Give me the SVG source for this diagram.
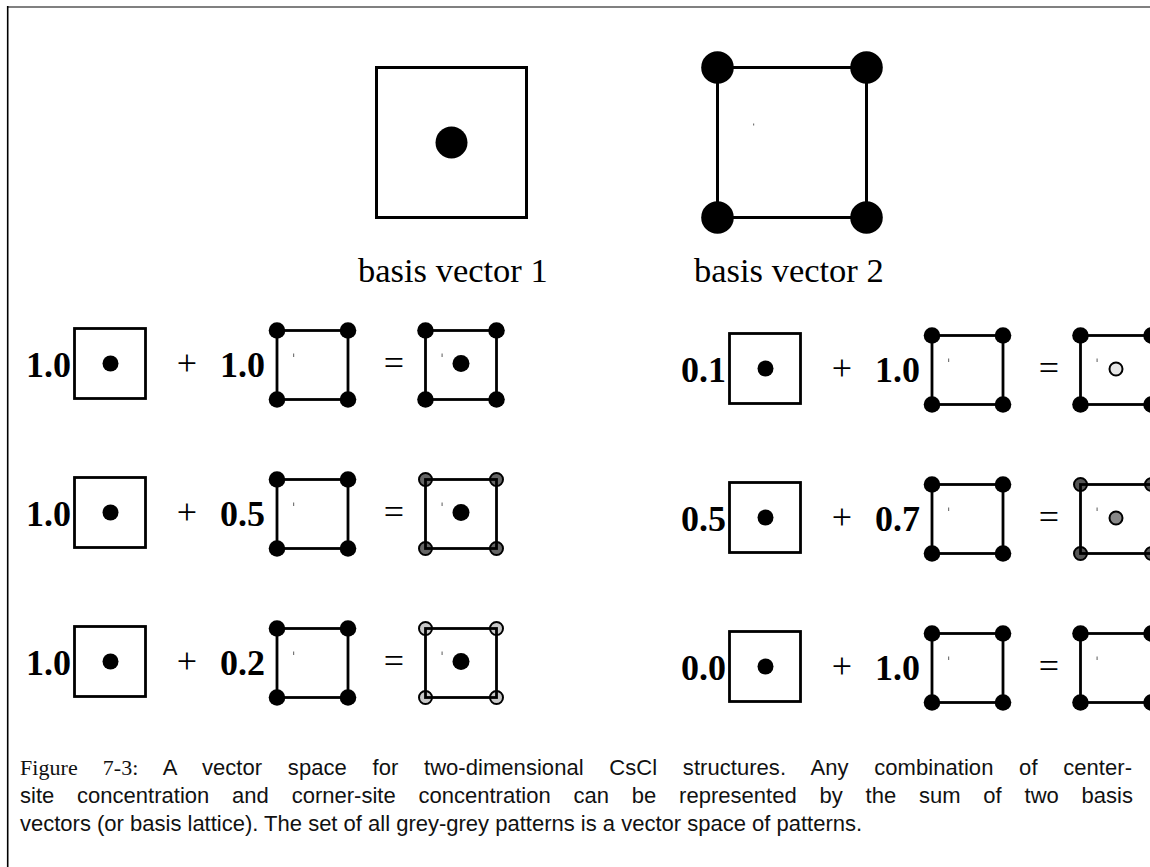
<svg xmlns="http://www.w3.org/2000/svg" xmlns:xlink="http://www.w3.org/1999/xlink" width="1150" height="867" viewBox="0 0 1150 867">
<style>
.ln{fill:none;stroke:#000;stroke-width:2.8}
.lnb{fill:none;stroke:#000;stroke-width:3}
.dot{fill:#000}
.gd{stroke:#000;stroke-width:2}
.tick{fill:#777}
.num{font-family:"Liberation Serif",serif;font-weight:bold;font-size:36px;fill:#000}
.op{font-family:"Liberation Serif",serif;font-size:36px;fill:#000;text-anchor:middle}
.lbl{font-family:"Liberation Serif",serif;font-size:34.5px;fill:#000}
.cap{font-family:"Liberation Sans",sans-serif;font-size:22px;fill:#111}
.capr{font-family:"Liberation Serif",serif}
</style>
<defs>
<g id="cen">
<rect class="ln" x="0" y="0" width="71" height="70"/>
<circle class="dot" cx="36" cy="35" r="8"/>
</g>
<g id="cor">
<circle class="dot" cx="0" cy="0" r="8.3"/>
<circle class="dot" cx="71" cy="0" r="8.3"/>
<circle class="dot" cx="0" cy="69" r="8.3"/>
<circle class="dot" cx="71" cy="69" r="8.3"/>
<rect class="ln" x="0" y="0" width="71" height="69"/>
<rect class="tick" x="16" y="23" width="1.2" height="3.5"/>
</g>
</defs>
<g id="frame">
<line x1="7" y1="7" x2="1150" y2="7" stroke="#808080" stroke-width="2"/>
<line x1="7.7" y1="6" x2="7.7" y2="867" stroke="#000" stroke-width="1.6"/>
</g>
<g id="basis1">
<rect class="lnb" x="376.5" y="67.5" width="150" height="150"/>
<circle class="dot" cx="451.5" cy="142.5" r="16"/>
<text class="lbl" x="358" y="282">basis vector 1</text>
</g>
<g id="basis2">
<rect class="lnb" x="717.5" y="67.5" width="149" height="150"/>
<circle class="dot" cx="717.5" cy="67.5" r="16.3"/>
<circle class="dot" cx="866.5" cy="67.5" r="16.3"/>
<circle class="dot" cx="717.5" cy="217.5" r="16.3"/>
<circle class="dot" cx="866.5" cy="217.5" r="16.3"/>
<rect class="tick" x="753" y="123.5" width="1.2" height="2"/>
<text class="lbl" x="694" y="282">basis vector 2</text>
</g>
<g id="row-left-1">
<text class="num" x="26" y="377">1.0</text>
<use xlink:href="#cen" x="74.5" y="328.5"/>
<text class="op" x="187" y="375">+</text>
<text class="num" x="220" y="377">1.0</text>
<use xlink:href="#cor" x="277" y="330.5"/>
<text class="op" x="394" y="375">=</text>
<use xlink:href="#cor" x="425.5" y="330.5"/>
<circle class="dot" cx="461" cy="363.5" r="8.5"/>
</g>
<g id="row-left-2" transform="translate(0,149)">
<text class="num" x="26" y="377">1.0</text>
<use xlink:href="#cen" x="74.5" y="328.5"/>
<text class="op" x="187" y="375">+</text>
<text class="num" x="220" y="377">0.5</text>
<use xlink:href="#cor" x="277" y="330.5"/>
<text class="op" x="394" y="375">=</text>
<circle class="gd" fill="#666" cx="425.5" cy="330.5" r="6.5"/>
<circle class="gd" fill="#666" cx="496.5" cy="330.5" r="6.5"/>
<circle class="gd" fill="#666" cx="425.5" cy="399.5" r="6.5"/>
<circle class="gd" fill="#666" cx="496.5" cy="399.5" r="6.5"/>
<rect class="ln" x="425.5" y="330.5" width="71" height="69"/>
<rect class="tick" x="441.5" y="353.5" width="1.2" height="3.5"/>
<circle class="dot" cx="461" cy="363.5" r="8.5"/>
</g>
<g id="row-left-3" transform="translate(0,298)">
<text class="num" x="26" y="377">1.0</text>
<use xlink:href="#cen" x="74.5" y="328.5"/>
<text class="op" x="187" y="375">+</text>
<text class="num" x="220" y="377">0.2</text>
<use xlink:href="#cor" x="277" y="330.5"/>
<text class="op" x="394" y="375">=</text>
<circle class="gd" fill="#c8c8c8" cx="425.5" cy="330.5" r="6.5"/>
<circle class="gd" fill="#c8c8c8" cx="496.5" cy="330.5" r="6.5"/>
<circle class="gd" fill="#c8c8c8" cx="425.5" cy="399.5" r="6.5"/>
<circle class="gd" fill="#c8c8c8" cx="496.5" cy="399.5" r="6.5"/>
<rect class="ln" x="425.5" y="330.5" width="71" height="69"/>
<rect class="tick" x="441.5" y="353.5" width="1.2" height="3.5"/>
<circle class="dot" cx="461" cy="363.5" r="8.5"/>
</g>
<g id="row-right-1" transform="translate(655,5)">
<text class="num" x="26" y="377">0.1</text>
<use xlink:href="#cen" x="74.5" y="328.5"/>
<text class="op" x="187" y="375">+</text>
<text class="num" x="220" y="377">1.0</text>
<use xlink:href="#cor" x="277" y="330.5"/>
<text class="op" x="394" y="375">=</text>
<use xlink:href="#cor" x="425.5" y="330.5"/>
<circle class="gd" fill="#e6e6e6" cx="461" cy="364" r="6.5"/>
</g>
<g id="row-right-2" transform="translate(655,154)">
<text class="num" x="26" y="377">0.5</text>
<use xlink:href="#cen" x="74.5" y="328.5"/>
<text class="op" x="187" y="375">+</text>
<text class="num" x="220" y="377">0.7</text>
<use xlink:href="#cor" x="277" y="330.5"/>
<text class="op" x="394" y="375">=</text>
<circle class="gd" fill="#555" cx="425.5" cy="330.5" r="6.5"/>
<circle class="gd" fill="#555" cx="496.5" cy="330.5" r="6.5"/>
<circle class="gd" fill="#555" cx="425.5" cy="399.5" r="6.5"/>
<circle class="gd" fill="#555" cx="496.5" cy="399.5" r="6.5"/>
<rect class="ln" x="425.5" y="330.5" width="71" height="69"/>
<rect class="tick" x="441.5" y="353.5" width="1.2" height="3.5"/>
<circle class="gd" fill="#888" cx="461" cy="364" r="6.5"/>
</g>
<g id="row-right-3" transform="translate(655,303)">
<text class="num" x="26" y="377">0.0</text>
<use xlink:href="#cen" x="74.5" y="328.5"/>
<text class="op" x="187" y="375">+</text>
<text class="num" x="220" y="377">1.0</text>
<use xlink:href="#cor" x="277" y="330.5"/>
<text class="op" x="394" y="375">=</text>
<use xlink:href="#cor" x="425.5" y="330.5"/>
</g>
<g id="connectors"/>
<g id="caption">
<text class="cap" x="20" y="775" word-spacing="19.5" textLength="1112" lengthAdjust="spacing"><tspan class="capr">Figure 7-3:</tspan> A vector space for two-dimensional CsCl structures. Any combination of center-</text>
<text class="cap" x="20" y="803" word-spacing="16.7" textLength="1113" lengthAdjust="spacing">site concentration and corner-site concentration can be represented by the sum of two basis</text>
<text class="cap" x="20" y="831">vectors (or basis lattice). The set of all grey-grey patterns is a vector space of patterns.</text>
</g>
</svg>
